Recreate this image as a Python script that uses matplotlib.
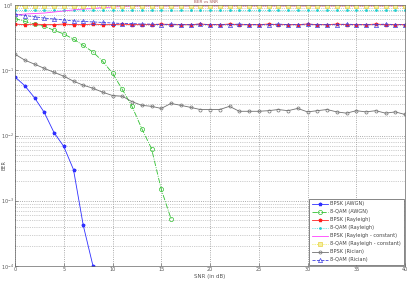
import numpy as np
import matplotlib
matplotlib.use("Agg")
import matplotlib.pyplot as plt
from matplotlib.ticker import LogLocator, NullFormatter, FixedLocator

snr = list(range(0, 41))

bpsk_awgn_snr = [0, 1, 2, 3, 4, 5, 6, 7, 8]
bpsk_awgn = [0.079, 0.058, 0.038, 0.0226, 0.0111, 0.0068, 0.0030, 0.00042, 0.0001]

qam_awgn_snr = list(range(0, 17))
qam_awgn = [0.62, 0.56, 0.51, 0.47, 0.41, 0.36, 0.30, 0.24, 0.19, 0.137, 0.09,
            0.051, 0.028, 0.0128, 0.0063, 0.0015, 0.00053]

bpsk_rayleigh = [0.51, 0.50, 0.51, 0.50, 0.50, 0.51, 0.50, 0.50, 0.51, 0.50,
                 0.50, 0.51, 0.50, 0.50, 0.50, 0.51, 0.50, 0.50, 0.50, 0.51,
                 0.50, 0.50, 0.51, 0.50, 0.50, 0.50, 0.51, 0.50, 0.50, 0.50,
                 0.51, 0.50, 0.50, 0.51, 0.50, 0.50, 0.50, 0.51, 0.50, 0.50, 0.50]

qam_rayleigh = [0.85] * 41

bpsk_rayleigh_const = [0.70, 0.727, 0.74, 0.753, 0.78, 0.81, 0.84, 0.868, 0.88,
                       0.915, 0.931, 0.95, 0.96] + [0.965] * 28

qam_rayleigh_const = [0.965] * 41

bpsk_rician = [0.176, 0.143, 0.124, 0.107, 0.093, 0.081, 0.068, 0.059, 0.053,
               0.046, 0.041, 0.040, 0.033, 0.029, 0.028, 0.026, 0.031, 0.029,
               0.027, 0.025, 0.025, 0.025, 0.028, 0.0235, 0.0235, 0.0235, 0.024,
               0.025, 0.024, 0.026, 0.023, 0.024, 0.025, 0.023, 0.022, 0.024,
               0.023, 0.024, 0.022, 0.023, 0.021]

qam_rician = [0.72, 0.69, 0.66, 0.63, 0.61, 0.59, 0.57, 0.56, 0.55, 0.54, 0.53,
              0.52, 0.52, 0.51, 0.51, 0.50, 0.51, 0.50, 0.50, 0.51, 0.50, 0.50,
              0.50, 0.51, 0.50, 0.50, 0.50, 0.51, 0.50, 0.50, 0.51, 0.50, 0.50,
              0.50, 0.51, 0.50, 0.50, 0.50, 0.51, 0.50, 0.50]

labels = ["BPSK (AWGN)", "8-QAM (AWGN)", "BPSK (Rayleigh)", "8-QAM (Rayleigh)",
          "BPSK (Rayleigh - constant)", "8-QAM (Rayleigh - constant)",
          "BPSK (Rician)", "8-QAM (Rician)"]

fig = plt.figure(figsize=(4.11, 2.88), dpi=100)
ax = fig.add_axes([15/411, 1 - 266/288, (405-15)/411, (266-5)/288])

lw = 0.6
ax.semilogy(bpsk_awgn_snr, bpsk_awgn, '-', color='#3030ff', marker='*', ms=2.5, lw=lw, label=labels[0])
ax.semilogy(qam_awgn_snr, qam_awgn, '-.', color='#30c030', marker='o', ms=3, mfc='none', mew=0.5, lw=lw, label=labels[1])
ax.semilogy(snr, bpsk_rayleigh, '-', color='#ff2020', marker='*', ms=2.5, lw=lw, label=labels[2])
ax.semilogy(snr, qam_rayleigh, ':', color='#20d0d0', marker='.', ms=2, lw=lw, label=labels[3])
ax.semilogy(snr, bpsk_rayleigh_const, '-', color='#ff40ff', lw=lw, label=labels[4])
ax.semilogy(snr, qam_rayleigh_const, ':', color='#e8e820', marker='s', ms=3.5, mfc='#f4f0a0', mec='#e8d040', mew=0.5, lw=lw, label=labels[5])
ax.semilogy(snr, bpsk_rician, '-', color='#707070', marker='o', ms=2.2, mfc='none', mew=0.5, lw=lw, label=labels[6])
ax.semilogy(snr, qam_rician, '--', color='#4040e0', marker='^', ms=3, mfc='none', mew=0.5, lw=lw, label=labels[7])

ax.set_xlim(0, 40)
ax.set_ylim(1e-4, 1)
ax.xaxis.set_major_locator(FixedLocator([0, 5, 10, 15, 20, 25, 30, 35, 40]))
ax.yaxis.set_major_locator(LogLocator(base=10, numticks=10))
ax.yaxis.set_minor_locator(LogLocator(base=10, subs=np.arange(2, 10), numticks=20))
ax.yaxis.set_minor_formatter(NullFormatter())
ax.grid(True, which='major', ls=':', color='#909090', lw=0.6)
ax.grid(True, which='minor', axis='y', ls=':', color='#a0a0a0', lw=0.5)
ax.tick_params(labelsize=3.5, length=2, width=0.4, pad=1, direction='in', colors='#555555')
ax.tick_params(which='minor', length=1, width=0.3, direction='in')
for s in ax.spines.values():
    s.set_linewidth(0.5)
    s.set_color('#666666')

ax.set_xlabel("SNR (in dB)", fontsize=4, labelpad=1.5, color='#555555')
fig.text(1.0/411, 1 - 165/288, "BER", fontsize=3.5, rotation=90, ha='left', va='center', color='#555555')
fig.text(0.5, 1.0, "BER vs SNR", fontsize=3, ha='center', va='top', color='#aa5555')

leg = ax.legend(loc='lower right', fontsize=3.6, frameon=True, fancybox=False,
                edgecolor='#555555', framealpha=1, borderpad=0.5, labelspacing=0.6,
                handlelength=3.2, handletextpad=0.6, borderaxespad=0.25)
leg.get_frame().set_linewidth(0.5)
for t in leg.get_texts():
    t.set_color('#444444')

fig.savefig("out.png", dpi=100)
